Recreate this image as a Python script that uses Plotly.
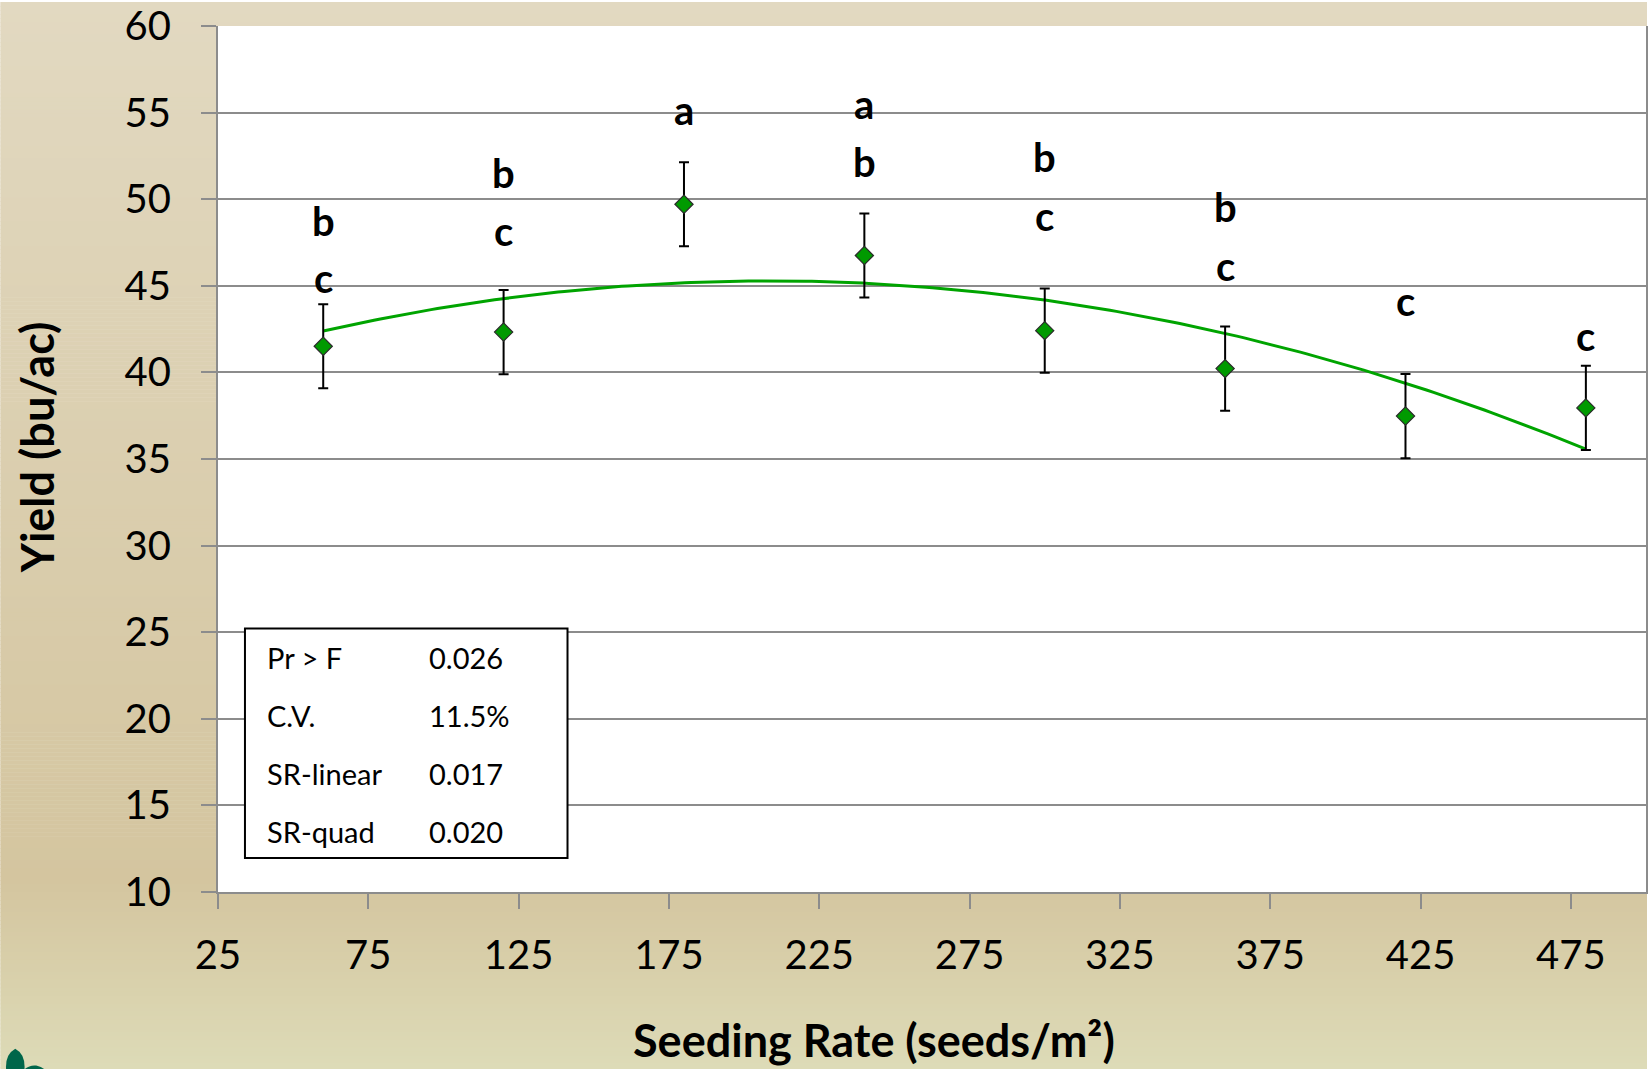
import numpy as np
import plotly.graph_objects as go

# ---- data ----
seeding_rate = [60, 120, 180, 240, 300, 360, 420, 480]
yield_mean = [41.51, 42.33, 49.71, 46.75, 42.41, 40.22, 37.48, 37.95]
yield_err = [2.43, 2.43, 2.43, 2.43, 2.43, 2.43, 2.43, 2.43]
letter_groups = [["b", "c"], ["b", "c"], ["a"], ["a", "b"], ["b", "c"], ["b", "c"], ["c"], ["c"]]
letter_y = [[48.77, 45.22], [51.53, 47.94], [54.90], [55.24, 52.12], [52.45, 48.81],
            [49.53, 45.93], [43.87], [41.85]]
stat_names = ["Pr > F", "C.V.", "SR-linear", "SR-quad"]
stat_values = ["0.026", "11.5%", "0.017", "0.020"]
x_ticks = [25, 75, 125, 175, 225, 275, 325, 375, 425, 475]
y_ticks = [10, 15, 20, 25, 30, 35, 40, 45, 50, 55, 60]

# ---- geometry ----
W, H = 1649, 1069
ML, MR, MT, MB = 218, 1, 24, 177
PW, PH = W - ML - MR, H - MT - MB


def px(x):
    return (x - ML) / PW


def py(y):
    return (H - MB - y) / PH


FONT = "Lato, 'Open Sans', sans-serif"

fig = go.Figure()

# quadratic trendline fitted to the means
coef = np.polyfit(seeding_rate, yield_mean, 2)
xs = np.linspace(min(seeding_rate), max(seeding_rate), 200)
fig.add_trace(go.Scatter(x=xs, y=np.polyval(coef, xs), mode="lines",
                         line=dict(color="#00A400", width=3), hoverinfo="skip",
                         showlegend=False))

fig.add_trace(go.Scatter(
    x=seeding_rate, y=yield_mean, mode="markers",
    marker=dict(symbol="diamond", size=14, color="#009A00",
                line=dict(color="#2b2b2b", width=1.2)),
    error_y=dict(type="data", array=yield_err, visible=True, color="black",
                 thickness=2, width=5),
    showlegend=False))

shapes = []
# background gradient
stops = [(0, (226, 217, 193)), (880, (212, 197, 159)), (H, (221, 219, 183))]


def bg_color(y):
    for (y0, c0), (y1, c1) in zip(stops[:-1], stops[1:]):
        if y0 <= y <= y1:
            t = (y - y0) / (y1 - y0)
            return "rgb(%d,%d,%d)" % tuple(round(a + (b - a) * t) for a, b in zip(c0, c1))
    return "rgb(%d,%d,%d)" % stops[-1][1]


step = 4
for y0 in range(0, H, step):
    shapes.append(dict(type="rect", xref="paper", yref="paper", layer="below",
                       x0=px(0), x1=px(W), y0=py(y0 + step + 0.5), y1=py(y0),
                       fillcolor=bg_color(y0 + step / 2), line=dict(width=0)))
shapes.append(dict(type="rect", xref="paper", yref="paper", layer="below",
                   x0=0, x1=1, y0=0, y1=1, fillcolor="white", line=dict(width=0)))
# stats box
shapes.append(dict(type="rect", xref="paper", yref="paper", layer="above",
                   x0=px(245), x1=px(568), y0=py(858), y1=py(628),
                   fillcolor="white", line=dict(color="black", width=2)))
# logo fragment
shapes.append(dict(type="path", xref="paper", yref="paper", layer="above",
                   path="M %f %f Q %f %f %f %f Q %f %f %f %f Z" % (
                       px(6), py(1072), px(4), py(1055), px(15), py(1049),
                       px(26), py(1055), px(24), py(1072)),
                   fillcolor="#00664a", line=dict(width=0)))
shapes.append(dict(type="path", xref="paper", yref="paper", layer="above",
                   path="M %f %f Q %f %f %f %f Q %f %f %f %f Z" % (
                       px(22), py(1072), px(28), py(1065), px(36), py(1066),
                       px(44), py(1068), px(46), py(1072)),
                   fillcolor="#00664a", line=dict(width=0)))

annotations = []
for x, labs, ys in zip(seeding_rate, letter_groups, letter_y):
    for lab, yv in zip(labs, ys):
        annotations.append(dict(x=x, y=yv, xref="x", yref="y", text=lab,
                                showarrow=False, yanchor="middle",
                                yshift=0 if lab == "b" else 4,
                                font=dict(family=FONT, size=40, color="black", weight="bold")))

row_y = [657, 715, 773, 831]
for name, val, ry in zip(stat_names, stat_values, row_y):
    annotations.append(dict(x=px(265), y=py(ry), xref="paper", yref="paper", text=name,
                            showarrow=False, xanchor="left", yanchor="middle",
                            font=dict(family=FONT, size=29, color="black")))
    annotations.append(dict(x=px(427), y=py(ry), xref="paper", yref="paper", text=val,
                            showarrow=False, xanchor="left", yanchor="middle",
                            font=dict(family=FONT, size=29, color="black")))

annotations.append(dict(x=px(875), y=py(1040), xref="paper", yref="paper",
                        text="Seeding Rate (seeds/m²)", showarrow=False,
                        xanchor="center", yanchor="middle",
                        font=dict(family=FONT, size=45, color="black", weight="bold")))
annotations.append(dict(x=px(37), y=py(446), xref="paper", yref="paper",
                        text="Yield (bu/ac)", showarrow=False, textangle=-90,
                        xanchor="center", yanchor="middle",
                        font=dict(family=FONT, size=45, color="black", weight="bold")))

fig.update_layout(
    width=W, height=H,
    margin=dict(l=ML, r=MR, t=MT, b=MB),
    paper_bgcolor="rgba(0,0,0,0)", plot_bgcolor="white",
    shapes=shapes, annotations=annotations,
    font=dict(family=FONT, color="black"),
    xaxis=dict(range=[25, 500], tickvals=x_ticks, showgrid=False, zeroline=False,
               showline=True, linecolor="#8c8c8c", linewidth=2,
               ticks="outside", ticklen=15, tickwidth=2, tickcolor="#8c8c8c",
               tickfont=dict(family=FONT, size=40), ticklabelstandoff=12,
               ticklabeloverflow="allow"),
    yaxis=dict(range=[9.999, 60.001], tickvals=y_ticks, showgrid=True, gridcolor="#8c8c8c",
               gridwidth=2, zeroline=False, showline=True, mirror=True,
               linecolor="#8c8c8c", linewidth=2,
               ticks="outside", ticklen=15, tickwidth=2, tickcolor="#8c8c8c",
               tickfont=dict(family=FONT, size=40), ticklabelstandoff=22,
               ticklabeloverflow="allow"),
)

fig.write_html("out.html", config={"displayModeBar": False},
               post_script="document.body.style.margin='0';document.body.style.overflow='hidden';")
